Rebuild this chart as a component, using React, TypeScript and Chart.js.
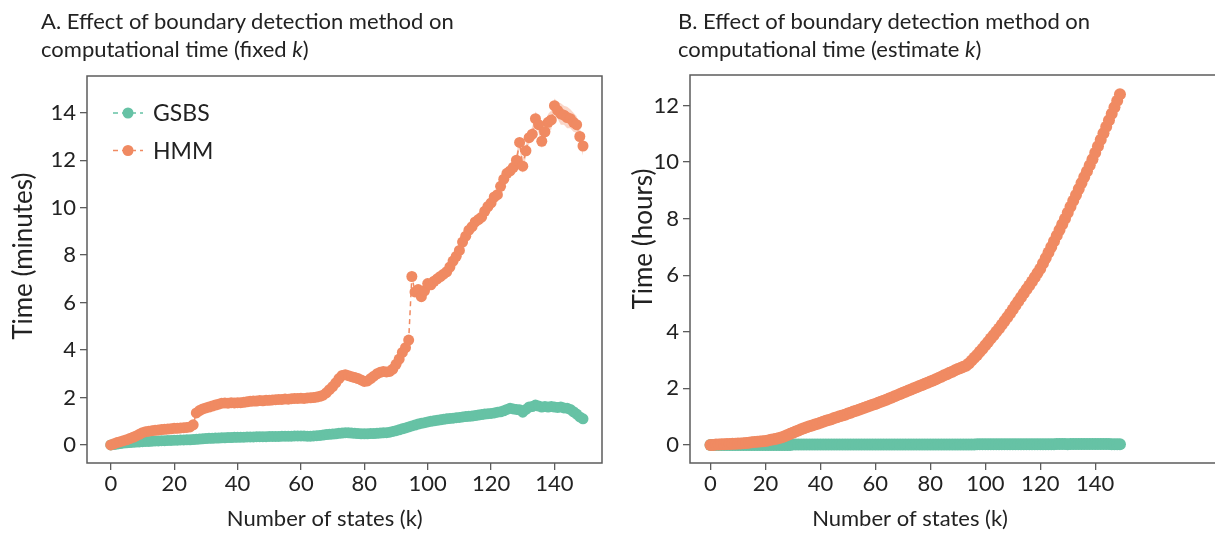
import React, { useEffect, useRef } from "react";
import { Chart, registerables } from "chart.js";

Chart.register(...registerables);

// ---------- data ----------
const kStates = [
  0, 1, 2, 3, 4, 5, 6, 7, 8, 9, 10, 11, 12, 13, 14, 15, 16, 17, 18, 19,
  20, 21, 22, 23, 24, 25, 26, 27, 28, 29, 30, 31, 32, 33, 34, 35, 36, 37, 38, 39,
  40, 41, 42, 43, 44, 45, 46, 47, 48, 49, 50, 51, 52, 53, 54, 55, 56, 57, 58, 59,
  60, 61, 62, 63, 64, 65, 66, 67, 68, 69, 70, 71, 72, 73, 74, 75, 76, 77, 78, 79,
  80, 81, 82, 83, 84, 85, 86, 87, 88, 89, 90, 91, 92, 93, 94, 95, 96, 97, 98, 99,
  100, 101, 102, 103, 104, 105, 106, 107, 108, 109, 110, 111, 112, 113, 114, 115, 116, 117, 118, 119,
  120, 121, 122, 123, 124, 125, 126, 127, 128, 129, 130, 131, 132, 133, 134, 135, 136, 137, 138, 139,
  140, 141, 142, 143, 144, 145, 146, 147, 148, 149,
];

// Panel A: time in minutes (fixed k)
const hmmMinutes = [
  0.0, 0.05, 0.1, 0.14, 0.18, 0.22, 0.27, 0.32, 0.38, 0.45,
  0.52, 0.56, 0.58, 0.6, 0.62, 0.63, 0.65, 0.66, 0.67, 0.68,
  0.7, 0.7, 0.72, 0.73, 0.74, 0.76, 0.85,
  1.35, 1.45, 1.52, 1.56, 1.6, 1.64, 1.68, 1.72, 1.76, 1.77, 1.76, 1.78, 1.77,
  1.78, 1.78, 1.8, 1.82, 1.84, 1.85, 1.85, 1.87, 1.86, 1.88,
  1.88, 1.9, 1.91, 1.92, 1.92, 1.94, 1.93, 1.95, 1.96, 1.96,
  1.97, 1.96, 1.98, 1.99, 2.0, 2.02, 2.05, 2.1, 2.2, 2.33,
  2.46, 2.62, 2.8, 2.93, 2.96, 2.92, 2.88, 2.84, 2.8, 2.74,
  2.68, 2.7, 2.8, 2.9, 3.0, 3.06, 3.1, 3.08, 3.1, 3.2,
  3.4, 3.62, 3.9, 4.1, 4.42, 7.1, 6.45, 6.55, 6.25, 6.5,
  6.8, 6.75, 6.9, 7.0, 7.1, 7.2, 7.3, 7.5, 7.75, 7.95,
  8.2, 8.55, 8.8, 9.05, 9.2, 9.4, 9.5, 9.6, 9.85, 10.05,
  10.2, 10.45, 10.55, 10.9, 11.2, 11.45, 11.55, 11.7, 12.0, 12.75,
  11.75, 12.4, 12.95, 13.1, 13.75, 13.5, 12.8, 13.2, 13.6, 13.7,
  14.3, 14.1, 13.95, 13.9, 13.8, 13.75, 13.6, 13.5, 13.0, 12.6,
];

// variability band around HMM at the high end of panel A
const bandStates = [126, 127, 128, 129, 130, 131, 132, 133, 134, 135, 136, 137, 138, 139, 140, 141, 142, 143, 144, 145, 146, 147, 148, 149];
const hmmBandHigh = [
  11.75, 11.95, 12.25, 13.0, 12.05, 12.65, 13.2, 13.4, 14.05, 13.85, 13.1, 13.55,
  13.95, 14.1, 14.6, 14.45, 14.4, 14.3, 14.25, 14.15, 14.0, 13.85, 13.35, 12.95,
];
const hmmBandLow = [
  11.35, 11.45, 11.75, 12.5, 11.45, 12.15, 12.7, 12.8, 13.45, 13.15, 12.5, 12.85,
  13.25, 13.3, 14.0, 13.75, 13.5, 13.5, 13.35, 13.35, 13.2, 13.15, 12.65, 12.2,
];

const gsbsMinutes = [
  0.0, 0.02, 0.04, 0.06, 0.08, 0.09, 0.1, 0.11, 0.12, 0.13,
  0.14, 0.15, 0.15, 0.16, 0.17, 0.17, 0.18, 0.18, 0.19, 0.19,
  0.2, 0.2, 0.21, 0.21, 0.22, 0.22, 0.23, 0.24, 0.25, 0.26,
  0.27, 0.28, 0.28, 0.29, 0.29, 0.3, 0.3, 0.31, 0.31, 0.32,
  0.32, 0.33, 0.33, 0.34, 0.34, 0.34, 0.35, 0.35, 0.35, 0.35,
  0.36, 0.36, 0.36, 0.36, 0.37, 0.37, 0.37, 0.37, 0.38, 0.38,
  0.38, 0.38, 0.37, 0.37, 0.38, 0.39, 0.4, 0.42, 0.44, 0.45,
  0.46, 0.47, 0.49, 0.5, 0.52, 0.51, 0.5, 0.49, 0.48, 0.47,
  0.47, 0.47, 0.48, 0.48, 0.49, 0.5, 0.51, 0.52, 0.54, 0.57,
  0.6, 0.64, 0.68, 0.72, 0.76, 0.8, 0.84, 0.88, 0.91, 0.94,
  0.97, 1.0, 1.02, 1.04, 1.06, 1.08, 1.1, 1.12, 1.13, 1.15,
  1.16, 1.18, 1.2, 1.21, 1.22, 1.24, 1.26, 1.28, 1.3, 1.32,
  1.33, 1.35, 1.38, 1.4, 1.44, 1.5, 1.55, 1.52, 1.5, 1.48,
  1.38, 1.5, 1.6, 1.62, 1.68, 1.64, 1.6, 1.62, 1.6, 1.62,
  1.6, 1.58, 1.6, 1.56, 1.55, 1.5, 1.4, 1.3, 1.18, 1.1,
];

// Panel B: time in hours (estimate k)
const hmmHours = [
  0.0, 0.0, 0.01, 0.01, 0.02, 0.02, 0.03, 0.03, 0.04, 0.04,
  0.05, 0.05, 0.06, 0.07, 0.08, 0.09, 0.1, 0.11, 0.12, 0.13,
  0.14, 0.16, 0.18, 0.2, 0.22, 0.24, 0.27, 0.31, 0.35, 0.39,
  0.43, 0.47, 0.51, 0.55, 0.59, 0.62, 0.66, 0.69, 0.72, 0.75,
  0.78, 0.82, 0.85, 0.88, 0.91, 0.95, 0.98, 1.01, 1.04, 1.07,
  1.11, 1.14, 1.18, 1.21, 1.24, 1.28, 1.31, 1.35, 1.38, 1.42,
  1.45, 1.49, 1.53, 1.56, 1.6, 1.64, 1.68, 1.72, 1.76, 1.8,
  1.84, 1.88, 1.92, 1.96, 2.0, 2.04, 2.08, 2.12, 2.16, 2.2,
  2.24, 2.28, 2.32, 2.37, 2.41, 2.46, 2.5, 2.55, 2.59, 2.64,
  2.68, 2.72, 2.76, 2.8, 2.88, 2.98, 3.08, 3.18, 3.29, 3.4,
  3.52, 3.64, 3.76, 3.88, 4.0, 4.12, 4.25, 4.38, 4.51, 4.65,
  4.79, 4.94, 5.08, 5.22, 5.36, 5.5, 5.64, 5.78, 5.93, 6.08,
  6.23, 6.42, 6.61, 6.8, 7.0, 7.2, 7.4, 7.6, 7.8, 8.0,
  8.21, 8.42, 8.63, 8.84, 9.05, 9.26, 9.47, 9.68, 9.89, 10.1,
  10.33, 10.56, 10.79, 11.02, 11.25, 11.48, 11.71, 11.94, 12.17, 12.4,
];

const gsbsHours = [
  0.0, 0.0, 0.0, 0.0, 0.0, 0.0, 0.0, 0.0, 0.0, 0.0,
  0.0, 0.0, 0.0, 0.0, 0.0, 0.0, 0.0, 0.0, 0.0, 0.0,
  0.0, 0.0, 0.0, 0.0, 0.0, 0.0, 0.0, 0.0, 0.0, 0.0,
  0.01, 0.01, 0.01, 0.01, 0.01, 0.01, 0.01, 0.01, 0.01, 0.01,
  0.01, 0.01, 0.01, 0.01, 0.01, 0.01, 0.01, 0.01, 0.01, 0.01,
  0.01, 0.01, 0.01, 0.01, 0.01, 0.01, 0.01, 0.01, 0.01, 0.01,
  0.01, 0.01, 0.01, 0.01, 0.01, 0.01, 0.01, 0.01, 0.01, 0.01,
  0.01, 0.01, 0.01, 0.01, 0.01, 0.01, 0.01, 0.01, 0.01, 0.01,
  0.01, 0.01, 0.01, 0.01, 0.01, 0.01, 0.01, 0.01, 0.01, 0.01,
  0.01, 0.01, 0.01, 0.01, 0.01, 0.01, 0.01, 0.02, 0.02, 0.02,
  0.02, 0.02, 0.02, 0.02, 0.02, 0.02, 0.02, 0.02, 0.02, 0.02,
  0.02, 0.02, 0.02, 0.02, 0.02, 0.02, 0.02, 0.02, 0.02, 0.02,
  0.02, 0.02, 0.02, 0.02, 0.02, 0.02, 0.03, 0.03, 0.03, 0.03,
  0.02, 0.03, 0.03, 0.03, 0.03, 0.03, 0.03, 0.03, 0.03, 0.03,
  0.03, 0.03, 0.03, 0.03, 0.03, 0.03, 0.02, 0.02, 0.02, 0.02,
];

const xTickValues = [0, 20, 40, 60, 80, 100, 120, 140];
const yTickValuesA = [0, 2, 4, 6, 8, 10, 12, 14];
const yTickValuesB = [0, 2, 4, 6, 8, 10, 12];
const seriesNames = ["GSBS", "HMM"];

// ---------- style ----------
const ORANGE = "#f08a62";
const GREEN = "#66c2a5";
const BAND = "rgba(240,138,98,0.35)";
const TEXT = "#222222";
const AXIS = "#5c5c5c";
const FONT = "Lato, 'Open Sans', sans-serif";

type Panel = {
  width: number;
  hmm: number[];
  gsbs: number[];
  band: boolean;
  pointRadius: number;
  xMin: number;
  xMax: number;
  yMin: number;
  yMax: number;
  yTicks: number[];
  xTitle: string;
  yTitle: string;
  yAxisWidth: number;
  yTitlePad: number;
  padTop: number;
  padRight: number;
  frameRight: boolean;
  legend: boolean;
};

function makeFramePlugin(drawRight: boolean) {
  return {
    id: "frame",
    beforeDatasetsDraw(chart: any) {
      const { ctx, chartArea } = chart;
      const { left, right, top, bottom } = chartArea;
      ctx.save();
      ctx.strokeStyle = AXIS;
      ctx.lineWidth = 1.5;
      ctx.beginPath();
      if (drawRight) {
        ctx.rect(left, top, right - left, bottom - top);
      } else {
        ctx.moveTo(chart.width + 2, top);
        ctx.lineTo(left, top);
        ctx.lineTo(left, bottom);
        ctx.lineTo(chart.width + 2, bottom);
      }
      ctx.stroke();
      ctx.restore();
    },
  };
}

function makeLegendPlugin() {
  return {
    id: "insideLegend",
    afterDraw(chart: any) {
      const { ctx, chartArea } = chart;
      const colors = [GREEN, ORANGE];
      const x0 = chartArea.left + 26;
      const y0 = chartArea.top + 37;
      ctx.save();
      seriesNames.forEach((name, i) => {
        const y = y0 + i * 37.5;
        ctx.strokeStyle = colors[i];
        ctx.fillStyle = colors[i];
        ctx.lineWidth = 1.5;
        ctx.setLineDash([5, 4]);
        ctx.beginPath();
        ctx.moveTo(x0, y);
        ctx.lineTo(x0 + 30, y);
        ctx.stroke();
        ctx.setLineDash([]);
        ctx.beginPath();
        ctx.arc(x0 + 15, y, 5.5, 0, Math.PI * 2);
        ctx.fill();
        ctx.fillStyle = TEXT;
        ctx.font = `23px ${FONT}`;
        ctx.textBaseline = "middle";
        ctx.textAlign = "left";
        ctx.fillText(name, x0 + 40, y + 1);
      });
      ctx.restore();
    },
  };
}

function buildConfig(p: Panel): any {
  const ds = (label: string, values: number[], color: string) => ({
    label,
    data: kStates.map((k, i) => ({ x: k, y: values[i] })),
    borderColor: color,
    backgroundColor: color,
    borderWidth: 1.5,
    borderDash: [5, 4],
    pointRadius: p.pointRadius,
    pointHoverRadius: p.pointRadius,
    pointBorderWidth: 0,
    pointBackgroundColor: color,
    tension: 0,
    fill: false,
  });
  const datasets: any[] = [ds("HMM", p.hmm, ORANGE), ds("GSBS", p.gsbs, GREEN)];
  if (p.band) {
    datasets.push({
      label: "HMM upper",
      data: bandStates.map((k, i) => ({ x: k, y: hmmBandHigh[i] })),
      borderWidth: 0,
      pointRadius: 0,
      borderColor: "rgba(0,0,0,0)",
      fill: false,
    });
    datasets.push({
      label: "HMM lower",
      data: bandStates.map((k, i) => ({ x: k, y: hmmBandLow[i] })),
      borderWidth: 0,
      pointRadius: 0,
      borderColor: "rgba(0,0,0,0)",
      backgroundColor: BAND,
      fill: "-1",
    });
  }
  const plugins: any[] = [makeFramePlugin(p.frameRight)];
  if (p.legend) plugins.push(makeLegendPlugin());
  return {
    type: "line",
    data: { datasets },
    options: {
      responsive: false,
      animation: false,
      events: [],
      layout: { padding: { left: 0, right: p.padRight, top: p.padTop, bottom: 0 } },
      plugins: { legend: { display: false }, tooltip: { enabled: false }, title: { display: false } },
      scales: {
        x: {
          type: "linear",
          min: p.xMin,
          max: p.xMax,
          afterFit: (s: any) => {
            s.height = 72;
          },
          afterBuildTicks: (s: any) => {
            s.ticks = xTickValues.map((v) => ({ value: v }));
          },
          border: { display: false },
          grid: { drawOnChartArea: false, drawTicks: true, tickLength: 7, color: AXIS, lineWidth: 1.3 },
          ticks: { color: TEXT, font: { family: FONT, size: 22 }, padding: 1, maxRotation: 0 },
          title: {
            display: true,
            text: p.xTitle,
            color: TEXT,
            font: { family: FONT, size: 22 },
            padding: { top: 0, bottom: 3 },
          },
        },
        y: {
          type: "linear",
          min: p.yMin,
          max: p.yMax,
          afterFit: (s: any) => {
            s.width = p.yAxisWidth;
          },
          afterBuildTicks: (s: any) => {
            s.ticks = p.yTicks.map((v) => ({ value: v }));
          },
          border: { display: false },
          grid: { drawOnChartArea: false, drawTicks: true, tickLength: 7, color: AXIS, lineWidth: 1.3 },
          ticks: { color: TEXT, font: { family: FONT, size: 22 }, padding: 4 },
          title: {
            display: true,
            text: p.yTitle,
            color: TEXT,
            font: { family: FONT, size: 26 },
            padding: { top: p.yTitlePad, bottom: 0 },
          },
        },
      },
    },
    plugins,
  };
}

const panelA: Panel = {
  width: 610,
  hmm: hmmMinutes,
  gsbs: gsbsMinutes,
  band: true,
  pointRadius: 5.5,
  xMin: -7.5,
  xMax: 155,
  yMin: -0.76,
  yMax: 15.55,
  yTicks: yTickValuesA,
  xTitle: "Number of states (k)       ",
  yTitle: "    Time (minutes)",
  yAxisWidth: 87,
  yTitlePad: 8,
  padTop: 76,
  padRight: 8,
  frameRight: true,
  legend: true,
};

const panelB: Panel = {
  width: 605,
  hmm: hmmHours,
  gsbs: gsbsHours,
  band: false,
  pointRadius: 6,
  xMin: -7.45,
  xMax: 181.4,
  yMin: -0.64,
  yMax: 13.08,
  yTicks: yTickValuesB,
  xTitle: "Number of states (k)              ",
  yTitle: "         Time (hours)",
  yAxisWidth: 80,
  yTitlePad: 18,
  padTop: 75,
  padRight: 0,
  frameRight: false,
  legend: false,
};

function ChartPanel({ panel, left }: { panel: Panel; left: number }) {
  const ref = useRef<HTMLCanvasElement | null>(null);
  useEffect(() => {
    if (!ref.current) return;
    const chart = new Chart(ref.current, buildConfig(panel));
    return () => chart.destroy();
  }, [panel]);
  return (
    <canvas
      ref={ref}
      width={panel.width}
      height={535}
      style={{ position: "absolute", left, top: 0, width: panel.width, height: 535, display: "block" }}
    />
  );
}

const titleStyle: React.CSSProperties = {
  position: "absolute",
  top: 7,
  fontFamily: FONT,
  fontSize: 22,
  lineHeight: "28px",
  color: TEXT,
  whiteSpace: "nowrap",
};

export default function App() {
  return (
    <div
      style={{
        position: "fixed",
        left: 0,
        top: 0,
        width: 1215,
        height: 535,
        background: "#ffffff",
        overflow: "hidden",
      }}
    >
      <ChartPanel panel={panelA} left={0} />
      <ChartPanel panel={panelB} left={610} />
      <div style={{ ...titleStyle, left: 41 }}>
        A. Effect of boundary detection method on
        <br />
        computational time (fixed <i>k</i>)
      </div>
      <div style={{ ...titleStyle, left: 678 }}>
        B. Effect of boundary detection method on
        <br />
        computational time (estimate <i>k</i>)
      </div>
    </div>
  );
}
